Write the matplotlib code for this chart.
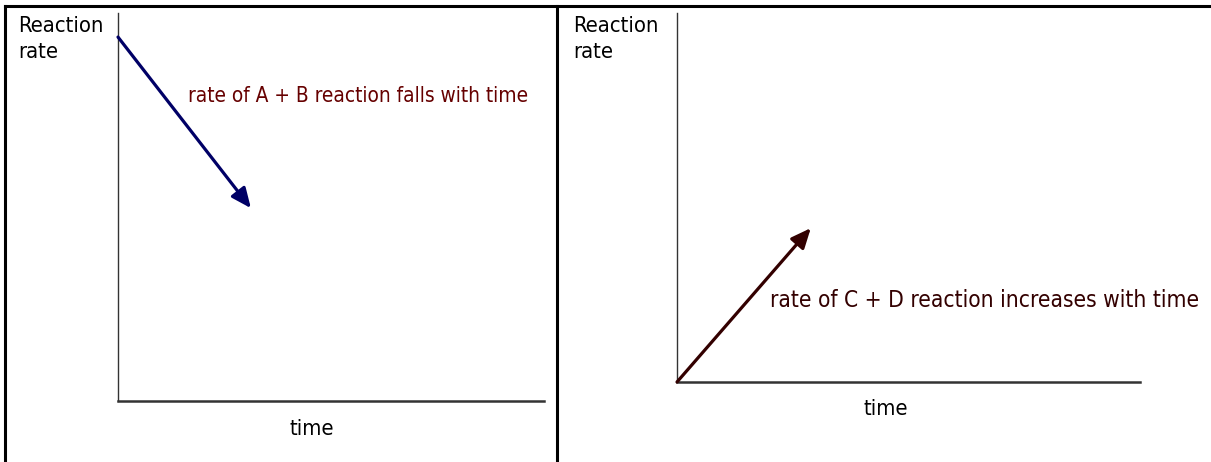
import matplotlib.pyplot as plt
from matplotlib.lines import Line2D

W, H = 1211, 462

# arrow data, in fractions of each axes' length
time_ab = [0.0, 0.312]
rate_ab = [0.938, 0.497]
time_cd = [0.0, 0.289]
rate_cd = [0.0, 0.417]

label_ab = 'rate of A + B reaction falls with time'
label_cd = 'rate of C + D reaction increases with time'

plt.rcParams['font.family'] = ['DejaVu Sans']
plt.rcParams['font.stretch'] = 'condensed'

fig = plt.figure(figsize=(W / 100, H / 100), dpi=100)
renderer = fig.canvas.get_renderer()


def px(x, y):
    return x / W, 1 - y / H


def fit_text(x, y, s, width, fs=17, **kw):
    # shrink the font until the text is as wide as in the reference
    t = fig.text(*px(x, y), s, fontsize=fs, **kw)
    w = t.get_window_extent(renderer).width
    if w > width:
        t.set_fontsize(fs * width / w)
    return t


def panel(rect, t, r, color):
    ax = fig.add_axes(rect)
    ax.set_xlim(0, 1)
    ax.set_ylim(0, 1)
    ax.set_xticks([])
    ax.set_yticks([])
    ax.spines['top'].set_visible(False)
    ax.spines['right'].set_visible(False)
    ax.spines['left'].set_color('#333333')
    ax.spines['left'].set_linewidth(1.0)
    ax.spines['bottom'].set_color('#333333')
    ax.spines['bottom'].set_linewidth(1.8)
    ax.patch.set_alpha(0)
    ax.annotate('', xy=(t[1], r[1]), xytext=(t[0], r[0]),
                arrowprops=dict(arrowstyle='-|>,head_length=0.5,head_width=0.22',
                                lw=2.3, color=color,
                                mutation_scale=24, shrinkA=0, shrinkB=0))
    return ax


# left panel: x 118..544, y 13..401 px
panel([118 / W, (H - 401) / H, 426 / W, 388 / H], time_ab, rate_ab, '#000066')
# right panel: x 677..1140, y 13..382 px
panel([677 / W, (H - 382) / H, 463 / W, 369 / H], time_cd, rate_cd, '#330000')

# table borders
for xs, ys in [([5, W], [6, 6]), ([5, 5], [6, H]), ([557, 557], [6, H])]:
    x0, y0 = px(xs[0], ys[0])
    x1, y1 = px(xs[1], ys[1])
    fig.add_artist(Line2D([x0, x1], [y0, y1], color='black', lw=2.2,
                          transform=fig.transFigure))

for x in (18, 573):
    t = fit_text(x, 32, 'Reaction', 85, ha='left', va='baseline')
    fig.text(*px(x, 58), 'rate', fontsize=t.get_fontsize(),
             ha='left', va='baseline')
    fs_label = t.get_fontsize()

fig.text(*px(312, 435), 'time', fontsize=fs_label, ha='center', va='baseline')
fig.text(*px(886, 415), 'time', fontsize=fs_label, ha='center', va='baseline')

fit_text(188, 102, label_ab, 340, color='#660000', ha='left', va='baseline')
fit_text(770, 307, label_cd, 428, color='#330000', ha='left', va='baseline')

fig.savefig('out.png', dpi=100)
